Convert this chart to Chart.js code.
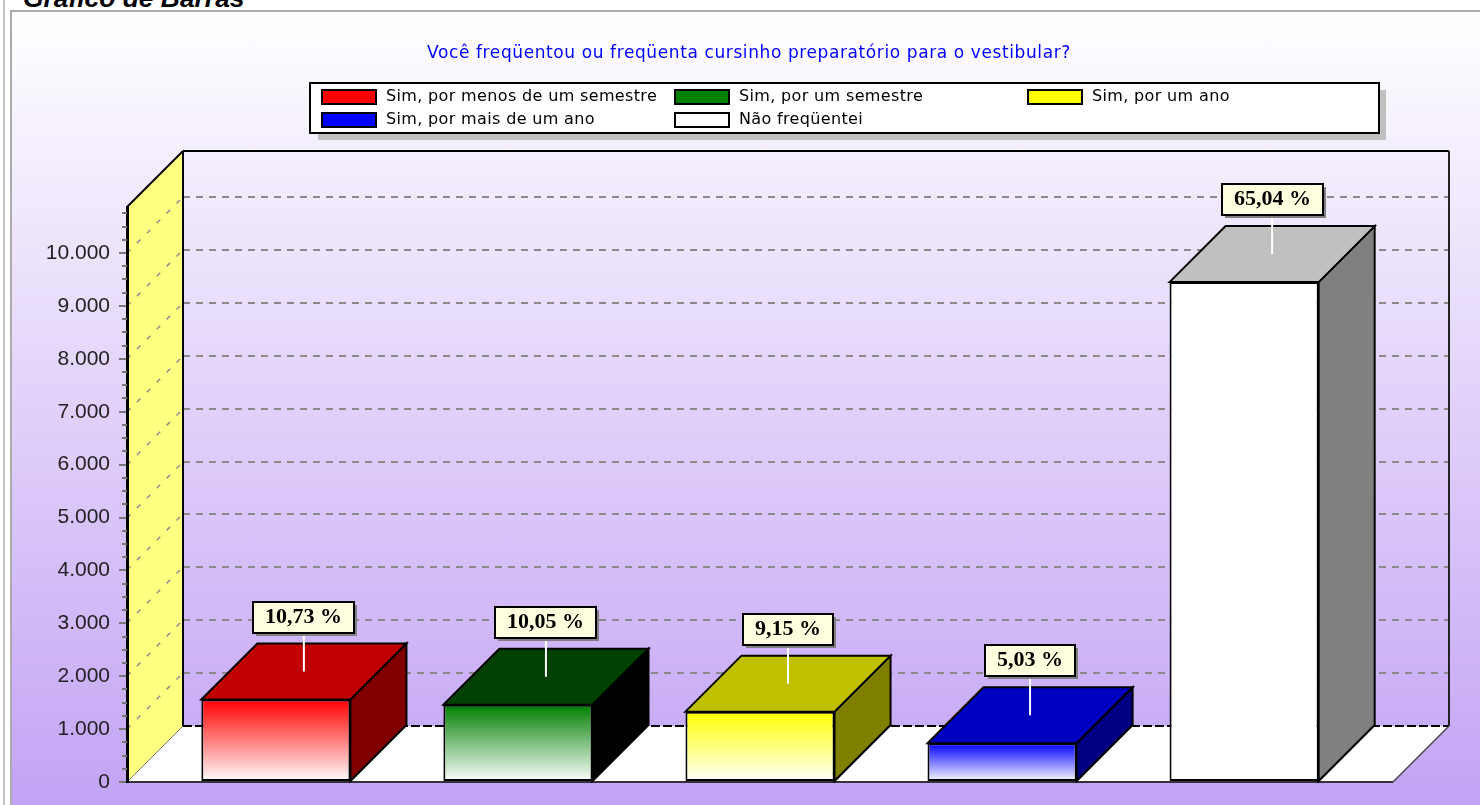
<!DOCTYPE html>
<html lang="pt-BR">
<head>
<meta charset="utf-8">
<title>Gráfico de Barras</title>
<script src="https://cdn.jsdelivr.net/npm/chart.js@4/dist/chart.umd.min.js"></script>
<style>
html,body{margin:0;padding:0;width:1480px;height:805px;overflow:hidden;background:#fff}
#outer{position:absolute;left:3px;top:0;width:2px;height:805px;background:#c4c4c4}
#frame{position:absolute;left:10px;top:10px;width:1480px;height:800px;box-sizing:border-box;border:2px solid #ababab;
 background:linear-gradient(to bottom,#ffffff 0,#c3a3f5 793px)}
#heading{position:absolute;left:23px;top:-17px;font:italic bold 26.4px "Liberation Sans",Arial,sans-serif;color:#000;white-space:nowrap}
canvas{position:absolute;left:0;top:0}
</style>
</head>
<body>
<div id="outer"></div>
<div id="frame"></div>
<div id="heading">Gráfico de Barras</div>
<canvas id="c" width="1480" height="805"></canvas>
<script>
const chartTitle = 'Você freqüentou ou freqüenta cursinho preparatório para o vestibular?';
const categories = [''];
const seriesLabels = ['Sim, por menos de um semestre','Sim, por um semestre','Sim, por um ano','Sim, por mais de um ano','Não freqüentei'];
const seriesValues = [1559,1460,1330,731,9450];
const percentValues = [10.73,10.05,9.15,5.03,65.04];
const tickValues = [0,1000,2000,3000,4000,5000,6000,7000,8000,9000,10000];
const minorTickValues = [250,500,750,1250,1500,1750,2250,2500,2750,3250,3500,3750,4250,4500,4750,5250,5500,5750,6250,6500,6750,7250,7500,7750,8250,8500,8750,9250,9500,9750,10250,10500,10750];
const frontColors = ['#ff0000','#008000','#ffff00','#0000ff','#ffffff'];
const topColors   = ['#c00000','#004000','#c0c000','#0000c0','#c0c0c0'];
const sideColors  = ['#800000','#000000','#808000','#000080','#808080'];

const DX = 56, DY = 56;
const fmtTick = v => String(v).replace(/\B(?=(\d{3})+$)/g,'.');
const fmtPct = v => v.toFixed(2).replace('.',',') + ' %';

function poly(ctx, pts, fill, stroke, lw){
  ctx.beginPath();
  pts.forEach((p,i)=> i ? ctx.lineTo(p[0],p[1]) : ctx.moveTo(p[0],p[1]));
  ctx.closePath();
  if(fill){ctx.fillStyle=fill;ctx.fill();}
  if(stroke){ctx.strokeStyle=stroke;ctx.lineWidth=lw||2;ctx.lineJoin='miter';ctx.stroke();}
}
function seg(ctx,x1,y1,x2,y2,color,lw,dash){
  ctx.save();ctx.beginPath();ctx.setLineDash(dash||[]);ctx.moveTo(x1,y1);ctx.lineTo(x2,y2);
  ctx.strokeStyle=color;ctx.lineWidth=lw;ctx.stroke();ctx.restore();
}

const box3d = {
  id:'box3d',
  beforeDraw(chart){
    const ctx=chart.ctx,a=chart.chartArea,y=chart.scales.y;
    const L=a.left,R=a.right,T=a.top,B=a.bottom;
    ctx.save();
    poly(ctx,[[L,T],[L+DX,T-DY],[L+DX,B-DY],[L,B]],'#ffff80');
    poly(ctx,[[L,B],[L+DX,B-DY],[R+DX,B-DY],[R,B]],'#ffffff');
    y.ticks.forEach(t=>{
      const p=Math.round(y.getPixelForValue(t.value));
      if(t.value===0) return;
      seg(ctx,L,p,L+DX,p-DY,'#909090',1.5,[5,9]);
      seg(ctx,L+DX,p-DY,R+DX,p-DY,'#8a8a8a',2,[7,6]);
    });
    seg(ctx,L+DX,B-DY,R+DX,B-DY,'#000',2,[9,3]);
    seg(ctx,L+DX,T-DY,L+DX,B-DY,'#000',2);
    seg(ctx,L+DX,T-DY,R+DX,T-DY,'#000',2);
    seg(ctx,R+DX,T-DY,R+DX,B-DY,'#222',2);
    seg(ctx,L,T,L+DX,T-DY,'#000',2);
    seg(ctx,L,B,L+DX,B-DY,'#777',1);
    seg(ctx,R,B,R+DX,B-DY,'#444',1.5);
    seg(ctx,L,B,R,B,'#333',2);
    ctx.restore();
  },
  beforeDatasetsDraw(chart){
    const ctx=chart.ctx;
    ctx.save();
    chart.data.datasets.forEach((ds,i)=>{
      const el=chart.getDatasetMeta(i).data[0];
      const l=el.x-el.width/2,r=el.x+el.width/2,t=el.y,b=el.base;
      poly(ctx,[[r,t],[r+DX,t-DY],[r+DX,b-DY],[r,b]],sideColors[i],'#000',2);
      poly(ctx,[[l,t],[l+DX,t-DY],[r+DX,t-DY],[r,t]],topColors[i],'#000',2);
    });
    ctx.restore();
  },
  afterDatasetsDraw(chart){
    const ctx=chart.ctx;
    ctx.save();
    chart.data.datasets.forEach((ds,i)=>{
      const el=chart.getDatasetMeta(i).data[0];
      const cx=el.x+DX/2, topBack=el.y-DY, mid=el.y-DY/2;
      const txt=fmtPct(percentValues[i]);
      ctx.font='bold 22px "Liberation Serif","Times New Roman",serif';
      const w=Math.round(ctx.measureText(txt).width)+24, h=31;
      const bx=Math.round(cx-w/2), by=Math.round(topBack-42);
      seg(ctx,cx,by+h,cx,mid,'#ffffff',2);
      ctx.fillStyle='#808080';ctx.fillRect(bx+3,by+3,w,h);
      ctx.fillStyle='#ffffe0';ctx.fillRect(bx,by,w,h);
      ctx.strokeStyle='#000';ctx.lineWidth=2;ctx.strokeRect(bx,by,w,h);
      ctx.fillStyle='#000';ctx.textAlign='center';ctx.textBaseline='middle';
      ctx.fillText(txt,bx+w/2,by+h/2);
    });
    ctx.restore();
  },
  afterDraw(chart){
    const ctx=chart.ctx,a=chart.chartArea,y=chart.scales.y;
    ctx.save();
    minorTickValues.forEach(v=>{
      const p=Math.round(y.getPixelForValue(v));
      seg(ctx,a.left-5,p,a.left,p,'#777',2);
    });
    ctx.font='17px "DejaVu Sans",sans-serif';
    ctx.letterSpacing='0.6px';
    ctx.fillStyle='#0000ff';ctx.textAlign='center';ctx.textBaseline='middle';
    ctx.fillText(chartTitle,749,54);
    ctx.fillStyle='#c0c0c0';ctx.fillRect(318,90,1068,50);
    ctx.fillStyle='#ffffff';ctx.fillRect(310,83,1069,50);
    ctx.strokeStyle='#000';ctx.lineWidth=2;ctx.strokeRect(310,83,1069,50);
    const colX=[321,674,1027],rowY=[89,112];
    ctx.textAlign='left';ctx.font='16px "DejaVu Sans",sans-serif';ctx.letterSpacing='0.35px';
    chart.data.datasets.forEach((ds,i)=>{
      const x=colX[i%3],yy=rowY[Math.floor(i/3)];
      ctx.fillStyle=frontColors[i];ctx.fillRect(x+1,yy+1,54,14);
      ctx.strokeStyle='#000';ctx.lineWidth=2;ctx.strokeRect(x+1,yy+1,54,14);
      ctx.fillStyle='#000';ctx.fillText(ds.label,x+65,yy+8);
    });
    ctx.restore();
  }
};

new Chart(document.getElementById('c'),{
  type:'bar',
  data:{
    labels:categories,
    datasets:seriesLabels.map((label,i)=>({
      label,
      data:[seriesValues[i]],
      borderColor:'#000',
      borderWidth:2,
      borderSkipped:false,
      backgroundColor(ctx){
        const s=ctx.chart.scales&&ctx.chart.scales.y;
        if(!s||!ctx.chart.chartArea) return frontColors[i];
        const g=ctx.chart.ctx.createLinearGradient(0,s.getPixelForValue(seriesValues[i]),0,s.getPixelForValue(0));
        g.addColorStop(0,frontColors[i]);
        g.addColorStop(1,'#ffffff');
        return g;
      }
    }))
  },
  options:{
    responsive:false,
    animation:false,
    categoryPercentage:0.956,
    barPercentage:0.616,
    layout:{padding:{left:0,top:207,right:87,bottom:23}},
    plugins:{legend:{display:false},title:{display:false},tooltip:{enabled:false}},
    scales:{
      x:{display:false,grid:{display:false}},
      y:{
        min:0,max:10870,
        afterFit(s){s.width=127;},
        afterBuildTicks(s){s.ticks=tickValues.map(value=>({value}));},
        border:{color:'#000',width:3},
        grid:{drawOnChartArea:false,tickLength:8,color:'#777',lineWidth:2},
        ticks:{autoSkip:false,padding:9,color:'#222',
          font:{family:'"Liberation Sans",Arial,sans-serif',size:21},
          callback:v=>fmtTick(v)}
      }
    }
  },
  plugins:[box3d]
});
</script>
</body>
</html>
